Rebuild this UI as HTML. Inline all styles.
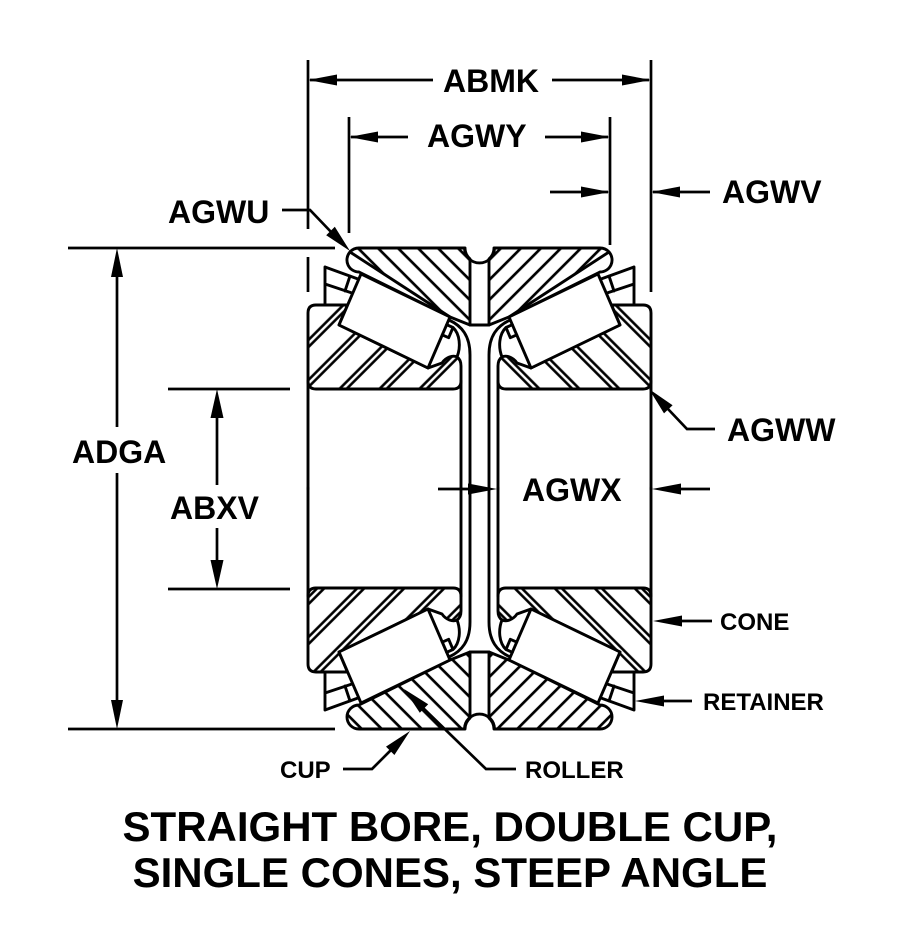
<!DOCTYPE html>
<html>
<head>
<meta charset="utf-8">
<style>
  html,body{margin:0;padding:0;background:#fff;}
  svg{display:block;}
  text{font-family:"Liberation Sans", Arial, Helvetica, sans-serif;font-weight:bold;fill:#000;}
</style>
</head>
<body>
<svg width="900" height="946" viewBox="0 0 900 946" xmlns="http://www.w3.org/2000/svg">
<rect width="900" height="946" fill="#fff"/>
<defs>
  <pattern id="bs" patternUnits="userSpaceOnUse" width="14.14" height="14.14" patternTransform="rotate(-45)">
    <line x1="7" y1="-2" x2="7" y2="17" stroke="#000" stroke-width="2.7"/>
  </pattern>
  <pattern id="fs" patternUnits="userSpaceOnUse" width="14.14" height="14.14" patternTransform="rotate(45)">
    <line x1="7" y1="-2" x2="7" y2="17" stroke="#000" stroke-width="2.7"/>
  </pattern>
  <pattern id="dfs" patternUnits="userSpaceOnUse" width="28.28" height="28.28" patternTransform="rotate(45)">
    <line x1="6" y1="-2" x2="6" y2="31" stroke="#000" stroke-width="2.6"/>
    <line x1="11" y1="-2" x2="11" y2="31" stroke="#000" stroke-width="2.6"/>
  </pattern>
  <pattern id="dbs" patternUnits="userSpaceOnUse" width="28.28" height="28.28" patternTransform="rotate(-45)">
    <line x1="6" y1="-2" x2="6" y2="31" stroke="#000" stroke-width="2.6"/>
    <line x1="11" y1="-2" x2="11" y2="31" stroke="#000" stroke-width="2.6"/>
  </pattern>

  <g id="L" stroke="#000" stroke-width="2.9" stroke-linejoin="round" stroke-linecap="round">
    <!-- TOP-LEFT -->
    <g>
      <path d="M470,325 L470,259 A15,15 0 0 1 465,248 L359,248 A12,12 0 0 0 350,252 L450,317 Z" fill="url(#bs)"/>
      <path d="M350,252 A12,12 0 0 0 359,272 L450,317" fill="none"/>
      <path d="M316,305 L347.5,305 L339,325 L428,368 L442,363 C446,357 453,355 457,357 C460,359 461,362 461,366 L461,381 Q461,389 453,389 L316,389 Q308,389 308,381 L308,313 Q308,305 316,305 Z" fill="url(#dfs)"/>
      <path d="M361,274 L450,317 L428,368 L339,325 Z" fill="#fff"/>
      <path d="M325,267 L325,305 M325,267 L358,279 M325,284 L352,293 M350,276 L345,291" fill="none"/>
      <path d="M446.7,324.7 L453,327.5 L448.7,337.7 L442.3,334.9 M453,327.5 C460,334 461,347 457,357" fill="none"/>
      <path d="M449,320 C462,326 470,336 470,355 L470,489" fill="none"/>
      <path d="M470,325 L480,325" fill="none"/>
      <path d="M308,381 L308,489 M461,381 L461,489" fill="none"/>
    </g>
    <!-- BOTTOM-LEFT -->
    <g transform="matrix(1,0,0,-1,0,977)">
      <path d="M470,325 L470,259 A15,15 0 0 1 465,248 L359,248 A12,12 0 0 0 359,272 L450,317 Z" fill="url(#fs)"/>
      <path d="M316,305 L347.5,305 L339,325 L428,368 L442,363 C446,357 453,355 457,357 C460,359 461,362 461,366 L461,381 Q461,389 453,389 L316,389 Q308,389 308,381 L308,313 Q308,305 316,305 Z" fill="url(#dbs)"/>
      <path d="M361,274 L450,317 L428,368 L339,325 Z" fill="#fff"/>
      <path d="M325,267 L325,305 M325,267 L358,279 M325,284 L352,293 M350,276 L345,291" fill="none"/>
      <path d="M446.7,324.7 L453,327.5 L448.7,337.7 L442.3,334.9 M453,327.5 C460,334 461,347 457,357" fill="none"/>
      <path d="M449,320 C462,326 470,336 470,355 L470,489" fill="none"/>
      <path d="M470,325 L480,325" fill="none"/>
      <path d="M308,381 L308,489 M461,381 L461,489" fill="none"/>
    </g>
  </g>
</defs>

<use href="#L"/>
<use href="#L" transform="matrix(-1,0,0,1,959,0)"/>

<!-- notch arcs (full semicircles) -->
<g stroke="#000" stroke-width="2.9" fill="none">
  <path d="M464.5,248 A15,15 0 0 0 494.5,248"/>
  <path d="M464.5,729 A15,15 0 0 1 494.5,729"/>
</g>

<!-- DIMENSIONS -->
<g stroke="#000" stroke-width="2.7" fill="none" stroke-linecap="butt">
  <path d="M308,60 L308,229 M308,257 L308,292"/>
  <path d="M651,60 L651,292"/>
  <path d="M310,80 L433,80 M552,80 L649,80"/>
  <path d="M349,117 L349,233 M610,117 L610,245"/>
  <path d="M351,137 L408,137 M545,137 L608,137"/>
  <path d="M550,192 L608,192 M653,192 L710,192"/>
  <path d="M282,210 L310,210 L333,234"/>
  <path d="M68,248 L335,248 M68,729 L335,729"/>
  <path d="M117,270 L117,427 M117,473 L117,707"/>
  <path d="M168,389 L290,389 M168,589 L290,589"/>
  <path d="M217,410 L217,485 M217,528 L217,568"/>
  <path d="M715,429 L687,429 L668,409"/>
  <path d="M438,489 L476,489 M674,489 L710,489"/>
  <path d="M677,621 L712,621"/>
  <path d="M658,701 L692,701"/>
  <path d="M343,769 L372,769 L392,749"/>
  <path d="M516,769 L486,769 L422,707"/>
</g>

<g fill="#000" stroke="none">
  <polygon points="308,80 337,74.5 337,85.5"/>
  <polygon points="651,80 622,74.5 622,85.5"/>
  <polygon points="349,137 378,131.5 378,142.5"/>
  <polygon points="610,137 581,131.5 581,142.5"/>
  <polygon points="610,192 581,186.5 581,197.5"/>
  <polygon points="651,192 680,186.5 680,197.5"/>
  <polygon points="350,251 326.2,235.2 334.8,226.8"/>
  <polygon points="117,248 111,277 123,277"/>
  <polygon points="117,729 111,700 123,700"/>
  <polygon points="217,389 210.5,418 223.5,418"/>
  <polygon points="217,589 210.5,560 223.5,560"/>
  <polygon points="649,389 672.6,405.2 664,413.4"/>
  <polygon points="497,489 468,483.5 468,494.5"/>
  <polygon points="652,489 681,483.5 681,494.5"/>
  <polygon points="653,621 682,615.5 682,626.5"/>
  <polygon points="635,701 664,695.5 664,706.5"/>
  <polygon points="410,731 394.4,755 386,746.6"/>
  <polygon points="404,689 428.2,704.2 419.8,712.8"/>
</g>

<g font-size="32">
  <text x="443" y="92">ABMK</text>
  <text x="427" y="147">AGWY</text>
  <text x="722" y="203">AGWV</text>
  <text x="168" y="223">AGWU</text>
  <text x="727" y="441">AGWW</text>
  <text x="72" y="463">ADGA</text>
  <text x="522" y="501">AGWX</text>
  <text x="170" y="519">ABXV</text>
</g>
<g font-size="24">
  <text x="720" y="630">CONE</text>
  <text x="703" y="710">RETAINER</text>
  <text x="280" y="778">CUP</text>
  <text x="525" y="778">ROLLER</text>
</g>
<g font-size="42" text-anchor="middle">
  <text x="450" y="841">STRAIGHT BORE, DOUBLE CUP,</text>
  <text x="450" y="887">SINGLE CONES, STEEP ANGLE</text>
</g>
</svg>
</body>
</html>
